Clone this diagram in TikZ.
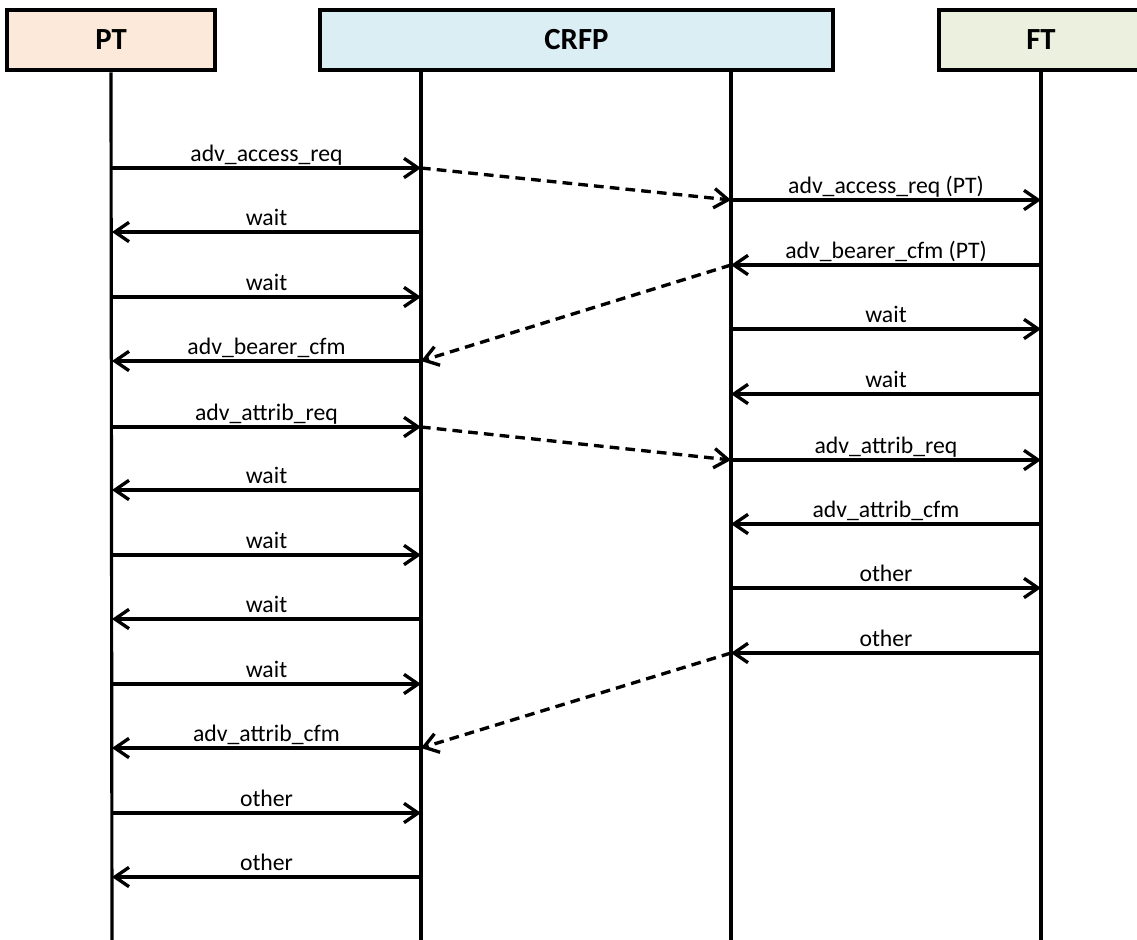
\documentclass[tikz,border=0pt]{standalone}
\usepackage{fontspec}
\setmainfont{Carlito}
\usetikzlibrary{arrows.meta}

\definecolor{ptfill}{HTML}{FCE9DA}
\definecolor{crfpfill}{HTML}{DAEEF3}
\definecolor{ftfill}{HTML}{EBF1DE}

\tikzset{
  head/.style={draw=black, line width=2.6pt, minimum height=1.2cm,
    font=\fontsize{17.5}{20}\selectfont\bfseries},
  life/.style={line width=1.8pt},
  msg/.style={line width=1.9pt, -{Straight Barb[length=8pt,width=11pt]}},
  relay/.style={msg, dash pattern=on 5.5pt off 3.5pt},
  lbl/.style={midway, anchor=base, yshift=3.8pt, inner sep=0pt,
    font=\fontsize{13.5}{16}\selectfont}
}

\begin{document}
\begin{tikzpicture}[x=0.02cm,y=-0.02cm]
\useasboundingbox (0,0) rectangle (1137,940);
\clip (0,0) rectangle (1137,940);
%%% header boxes
\node[head, fill=ptfill, minimum width=4.16cm] (PT) at (111,40) {PT};
\node[head, fill=crfpfill, minimum width=10.26cm] (CRFP) at (576.5,40) {CRFP};
\node[head, fill=ftfill, minimum width=4.08cm] (FT) at (1041,40) {FT};
%%% lifelines
\coordinate (ptend) at (112,940);
\coordinate (crl) at (421,70);
\coordinate (crlend) at (421,940);
\coordinate (crr) at (731,70);
\coordinate (crrend) at (731,940);
\coordinate (ftend) at (1041,940);
\draw[life] (PT.south) -- (ptend);
\draw[life] (crl) -- (crlend);
\draw[life] (crr) -- (crrend);
\draw[life] (FT.south) -- (ftend);
%%% PT <-> CRFP
\coordinate (pt1) at (112,168); \coordinate (cl1) at (421,168);
\coordinate (pt2) at (112,232); \coordinate (cl2) at (421,232);
\coordinate (pt3) at (112,297); \coordinate (cl3) at (421,297);
\coordinate (pt4) at (112,361); \coordinate (cl4) at (421,361);
\coordinate (pt5) at (112,427); \coordinate (cl5) at (421,427);
\coordinate (pt6) at (112,490); \coordinate (cl6) at (421,490);
\coordinate (pt7) at (112,555); \coordinate (cl7) at (421,555);
\coordinate (pt8) at (112,619); \coordinate (cl8) at (421,619);
\coordinate (pt9) at (112,684); \coordinate (cl9) at (421,684);
\coordinate (pt10) at (112,748); \coordinate (cl10) at (421,748);
\coordinate (pt11) at (112,813); \coordinate (cl11) at (421,813);
\coordinate (pt12) at (112,877); \coordinate (cl12) at (421,877);
\draw[msg] (pt1) -- (cl1) node[lbl] {adv\_access\_req};
\draw[msg] (cl2) -- (pt2) node[lbl] {wait};
\draw[msg] (pt3) -- (cl3) node[lbl] {wait};
\draw[msg] (cl4) -- (pt4) node[lbl] {adv\_bearer\_cfm};
\draw[msg] (pt5) -- (cl5) node[lbl] {adv\_attrib\_req};
\draw[msg] (cl6) -- (pt6) node[lbl] {wait};
\draw[msg] (pt7) -- (cl7) node[lbl] {wait};
\draw[msg] (cl8) -- (pt8) node[lbl] {wait};
\draw[msg] (pt9) -- (cl9) node[lbl] {wait};
\draw[msg] (cl10) -- (pt10) node[lbl] {adv\_attrib\_cfm};
\draw[msg] (pt11) -- (cl11) node[lbl] {other};
\draw[msg] (cl12) -- (pt12) node[lbl] {other};
%%% CRFP <-> FT
\coordinate (cr1) at (731,200); \coordinate (ft1) at (1041,200);
\coordinate (cr2) at (731,265); \coordinate (ft2) at (1041,265);
\coordinate (cr3) at (731,329); \coordinate (ft3) at (1041,329);
\coordinate (cr4) at (731,394); \coordinate (ft4) at (1041,394);
\coordinate (cr5) at (731,460); \coordinate (ft5) at (1041,460);
\coordinate (cr6) at (731,524); \coordinate (ft6) at (1041,524);
\coordinate (cr7) at (731,588); \coordinate (ft7) at (1041,588);
\coordinate (cr8) at (731,653); \coordinate (ft8) at (1041,653);
\draw[msg] (cr1) -- (ft1) node[lbl] {adv\_access\_req (PT)};
\draw[msg] (ft2) -- (cr2) node[lbl] {adv\_bearer\_cfm (PT)};
\draw[msg] (cr3) -- (ft3) node[lbl] {wait};
\draw[msg] (ft4) -- (cr4) node[lbl] {wait};
\draw[msg] (cr5) -- (ft5) node[lbl] {adv\_attrib\_req};
\draw[msg] (ft6) -- (cr6) node[lbl] {adv\_attrib\_cfm};
\draw[msg] (cr7) -- (ft7) node[lbl] {other};
\draw[msg] (ft8) -- (cr8) node[lbl] {other};
%%% relayed inside CRFP
\draw[relay] (cl1) -- (cr1);
\draw[relay] (cr2) -- (cl4);
\draw[relay] (cl5) -- (cr5);
\draw[relay] (cr8) -- (cl10);
\end{tikzpicture}
\end{document}
